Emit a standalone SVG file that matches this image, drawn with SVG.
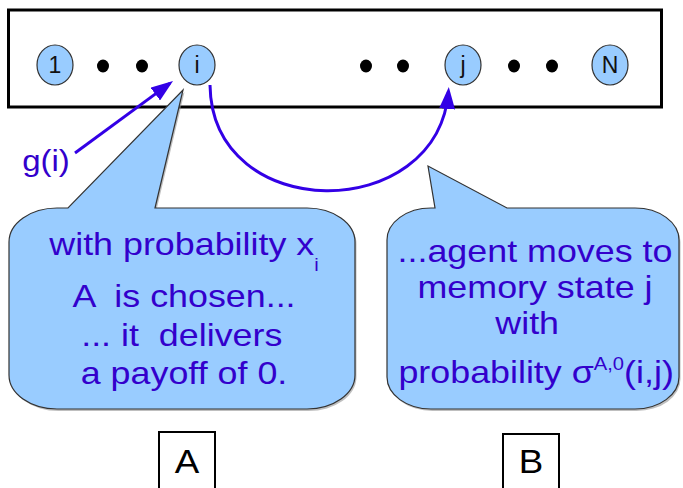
<svg xmlns="http://www.w3.org/2000/svg" width="683" height="488" viewBox="0 0 683 488">
<style>
.frame{fill:#fff;stroke:#000;stroke-width:3}
.st{fill:#99ccff;stroke:#333;stroke-width:1.2}
.dot{fill:#000}
.nl{font-family:"Liberation Sans",Arial,sans-serif;font-size:23px;fill:#111;text-anchor:middle}
.bub{fill:#99ccff;stroke:#333;stroke-width:1.2}
.shadow{fill:#8a8a8a;opacity:.55}
.bt{font-family:"Liberation Sans",Arial,sans-serif;font-size:32px;fill:#3300cc;text-anchor:middle}
.conn{fill:none;stroke:#3300e6;stroke-width:3}
.box{fill:#fff;stroke:#000;stroke-width:2}
.bl{font-family:"Liberation Sans",Arial,sans-serif;font-size:34px;fill:#000;text-anchor:middle}
</style>
<defs>
<marker id="ah" markerUnits="userSpaceOnUse" markerWidth="22" markerHeight="16" viewBox="0 0 22 16" refX="18" refY="8" orient="auto">
<path d="M0,0 L22,8 L0,16 Z" fill="#3300e6"/>
</marker>
</defs>
<rect class="frame" x="8.5" y="10" width="653" height="97"/>
<g id="node-1"><ellipse class="st" cx="55" cy="65" rx="18" ry="20"/><text class="nl" x="55" y="73">1</text></g>
<g id="dots-1"><ellipse class="dot" cx="103" cy="66" rx="6" ry="6.5"/><ellipse class="dot" cx="142" cy="66" rx="6" ry="6.5"/></g>
<g id="node-i"><ellipse class="st" cx="197" cy="65" rx="18" ry="20"/><text class="nl" x="197" y="73">i</text></g>
<g id="dots-2"><ellipse class="dot" cx="366" cy="66" rx="6" ry="6.5"/><ellipse class="dot" cx="403" cy="66" rx="6" ry="6.5"/></g>
<g id="node-j"><ellipse class="st" cx="463" cy="65" rx="18" ry="20"/><text class="nl" x="463" y="73">j</text></g>
<g id="dots-3"><ellipse class="dot" cx="514" cy="66" rx="6" ry="6.5"/><ellipse class="dot" cx="552" cy="66" rx="6" ry="6.5"/></g>
<g id="node-N"><ellipse class="st" cx="610" cy="65" rx="18" ry="20"/><text class="nl" x="610" y="73">N</text></g>
<g id="callout-A">
<path class="shadow" transform="translate(1.5,2)" d="M57,208 L68,208 L183,90 L155,208 L307,208 A48,34 0 0 1 355,242 L355,375 A48,34 0 0 1 307,409 L57,409 A48,34 0 0 1 9,375 L9,242 A48,34 0 0 1 57,208 Z"/>
<path class="bub" d="M57,208 L68,208 L183,90 L155,208 L307,208 A48,34 0 0 1 355,242 L355,375 A48,34 0 0 1 307,409 L57,409 A48,34 0 0 1 9,375 L9,242 A48,34 0 0 1 57,208 Z"/>
<g transform="translate(184,0) scale(1.12,1)">
<text class="bt" x="0" y="255">with probability x<tspan font-size="18" dy="16">i</tspan></text>
<text class="bt" x="0" y="307" xml:space="preserve">A  is chosen...</text>
<text class="bt" x="-2" y="346" xml:space="preserve">... it  delivers</text>
<text class="bt" x="0" y="384">a payoff of 0.</text>
</g>
</g>
<g id="callout-B">
<path class="shadow" transform="translate(1.5,2)" d="M431,208 L435,208 L428,166 L507,208 L635,208 A44,32 0 0 1 679,240 L679,377 A44,32 0 0 1 635,409 L431,409 A44,32 0 0 1 387,377 L387,240 A44,32 0 0 1 431,208 Z"/>
<path class="bub" d="M431,208 L435,208 L428,166 L507,208 L635,208 A44,32 0 0 1 679,240 L679,377 A44,32 0 0 1 635,409 L431,409 A44,32 0 0 1 387,377 L387,240 A44,32 0 0 1 431,208 Z"/>
<g transform="translate(535,0) scale(1.12,1)">
<text class="bt" x="0" y="262">...agent moves to</text>
<text class="bt" x="0" y="298">memory state j</text>
<text class="bt" x="-7" y="334">with</text>
<text class="bt" x="1" y="383">probability σ<tspan font-size="18" dy="-13">A,0</tspan><tspan dy="13">(i,j)</tspan></text>
</g>
</g>
<g id="connectors">
<path class="conn" d="M75,153 L169.8,83.4" marker-end="url(#ah)"/>
<path class="conn" d="M210,85 C212,225 438,225 448.5,91" marker-end="url(#ah)"/>
</g>
<g id="label-g"><text transform="translate(46,171) scale(1.1,1)" x="0" y="0" font-family="Liberation Sans, Arial, sans-serif" font-size="30" fill="#3300cc" text-anchor="middle">g(i)</text></g>
<g id="box-A"><rect class="box" x="159" y="432" width="56" height="62"/><text class="bl" transform="translate(187,473) scale(1.08,1)" x="0" y="0">A</text></g>
<g id="box-B"><rect class="box" x="503" y="434" width="56" height="62"/><text class="bl" transform="translate(531,473) scale(1.08,1)" x="0" y="0">B</text></g>
</svg>
